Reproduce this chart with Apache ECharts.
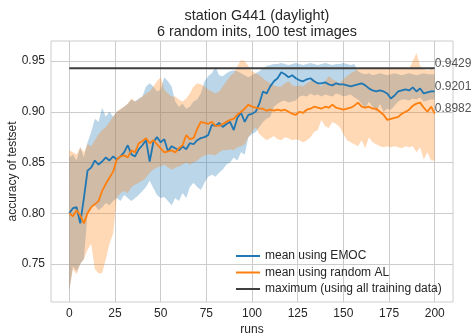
<!DOCTYPE html>
<html>
<head>
<meta charset="utf-8">
<script src="https://cdn.jsdelivr.net/npm/echarts@6/dist/echarts.min.js"></script>
<style>
  html, body { margin: 0; padding: 0; background: #fff; }
  #chart { width: 472px; height: 333px; }
</style>
</head>
<body>
<div id="chart"></div>
<script>
// runs sampled every 2 steps, 0..200
const runs = Array.from({ length: 101 }, (_, i) => i * 2);

const emocMean = [
  0.800, 0.805, 0.806, 0.790, 0.815, 0.842, 0.845, 0.852, 0.848, 0.851,
  0.855, 0.852, 0.856, 0.853, 0.856, 0.860, 0.867, 0.858, 0.856, 0.863,
  0.867, 0.872, 0.851, 0.870, 0.875, 0.870, 0.873, 0.861, 0.866, 0.864,
  0.862, 0.866, 0.863, 0.869, 0.868, 0.872, 0.874, 0.875, 0.877, 0.887,
  0.886, 0.889, 0.885, 0.888, 0.890, 0.882, 0.894, 0.899, 0.890, 0.897,
  0.898, 0.900, 0.908, 0.920, 0.918, 0.925, 0.930, 0.933, 0.939, 0.937,
  0.934, 0.936, 0.933, 0.931, 0.930, 0.932, 0.933, 0.930, 0.928, 0.928,
  0.929, 0.927, 0.926, 0.928, 0.927, 0.927, 0.926, 0.925, 0.926, 0.927,
  0.928, 0.926, 0.923, 0.921, 0.920, 0.921, 0.920, 0.918, 0.913, 0.916,
  0.920, 0.921, 0.922, 0.921, 0.924, 0.920, 0.923, 0.918, 0.919, 0.920,
  0.9201
];
const emocLow = [
  0.724, 0.748, 0.743, 0.750, 0.755, 0.800, 0.805, 0.808, 0.803, 0.806,
  0.810, 0.808, 0.812, 0.815, 0.812, 0.818, 0.815, 0.812, 0.815, 0.818,
  0.822, 0.826, 0.832, 0.825, 0.818, 0.815, 0.816, 0.812, 0.808, 0.815,
  0.812, 0.820, 0.815, 0.826, 0.830, 0.826, 0.823, 0.830, 0.836, 0.838,
  0.836, 0.840, 0.843, 0.848, 0.850, 0.855, 0.852, 0.860, 0.858, 0.875,
  0.878, 0.880, 0.885, 0.890, 0.893, 0.895, 0.905, 0.908, 0.910, 0.911,
  0.909, 0.910, 0.911, 0.915, 0.916, 0.915, 0.918, 0.916, 0.917, 0.915,
  0.917, 0.916, 0.915, 0.918, 0.917, 0.915, 0.916, 0.917, 0.914, 0.912,
  0.908, 0.903, 0.910, 0.905, 0.900, 0.908, 0.900, 0.903, 0.902, 0.906,
  0.910, 0.912, 0.912, 0.911, 0.913, 0.912, 0.914, 0.910, 0.911, 0.912,
  0.912
];
const emocHigh = [
  0.855, 0.858, 0.852, 0.865, 0.855, 0.870, 0.880, 0.893, 0.890, 0.904,
  0.895, 0.900, 0.895, 0.900, 0.902, 0.905, 0.908, 0.912, 0.910, 0.913,
  0.915, 0.925, 0.928, 0.925, 0.920, 0.922, 0.934, 0.930, 0.925, 0.910,
  0.905, 0.908, 0.903, 0.905, 0.910, 0.912, 0.918, 0.930, 0.935, 0.938,
  0.944, 0.936, 0.935, 0.938, 0.940, 0.941, 0.940, 0.938, 0.936, 0.934,
  0.936, 0.938, 0.940, 0.943, 0.945, 0.946, 0.947, 0.947, 0.948, 0.947,
  0.946, 0.947, 0.948, 0.947, 0.946, 0.947, 0.948, 0.947, 0.946, 0.947,
  0.948, 0.947, 0.946, 0.947, 0.947, 0.948, 0.947, 0.946, 0.947, 0.940,
  0.938, 0.937, 0.938, 0.936, 0.937, 0.938, 0.937, 0.936, 0.937, 0.938,
  0.937, 0.936, 0.937, 0.938, 0.937, 0.936, 0.937, 0.938, 0.937, 0.937,
  0.937
];

const randMean = [
  0.800, 0.797, 0.803, 0.798, 0.790, 0.800, 0.806, 0.809, 0.812, 0.822,
  0.829, 0.835, 0.841, 0.853, 0.856, 0.857, 0.855, 0.862, 0.860, 0.869,
  0.871, 0.874, 0.869, 0.872, 0.868, 0.864, 0.860, 0.861, 0.862, 0.860,
  0.864, 0.867, 0.877, 0.873, 0.874, 0.883, 0.890, 0.889, 0.888, 0.890,
  0.886, 0.886, 0.888, 0.890, 0.892, 0.893, 0.897, 0.900, 0.903, 0.907,
  0.905, 0.904, 0.903, 0.903, 0.901, 0.902, 0.901, 0.902, 0.901, 0.902,
  0.900, 0.898, 0.897, 0.900, 0.899, 0.902, 0.903, 0.905, 0.904, 0.903,
  0.905, 0.904, 0.907, 0.904, 0.903, 0.902, 0.903, 0.904, 0.906, 0.909,
  0.905, 0.904, 0.905, 0.903, 0.903, 0.900, 0.897, 0.892, 0.893, 0.894,
  0.895, 0.898, 0.900, 0.902, 0.906, 0.908, 0.909, 0.904, 0.900, 0.905,
  0.8982
];
const randLow = [
  0.724, 0.745, 0.740, 0.750, 0.755, 0.764, 0.770, 0.745, 0.741, 0.741,
  0.755, 0.770, 0.780, 0.815, 0.820, 0.822, 0.820, 0.826, 0.828, 0.830,
  0.832, 0.835, 0.840, 0.843, 0.845, 0.846, 0.848, 0.845, 0.843, 0.845,
  0.846, 0.848, 0.850, 0.848, 0.850, 0.852, 0.855, 0.857, 0.858, 0.858,
  0.857, 0.860, 0.862, 0.862, 0.863, 0.862, 0.865, 0.866, 0.868, 0.875,
  0.880, 0.885, 0.878, 0.875, 0.872, 0.874, 0.876, 0.873, 0.872, 0.875,
  0.874, 0.872, 0.873, 0.872, 0.870, 0.872, 0.875, 0.880, 0.882, 0.892,
  0.886, 0.884, 0.890, 0.888, 0.885, 0.878, 0.872, 0.870, 0.868, 0.866,
  0.872, 0.864, 0.875, 0.870, 0.868, 0.866, 0.865, 0.866, 0.865, 0.866,
  0.865, 0.864, 0.866, 0.865, 0.866, 0.860, 0.865, 0.853, 0.860, 0.852,
  0.852
];
const randHigh = [
  0.862, 0.860, 0.858, 0.865, 0.860, 0.868, 0.866, 0.872, 0.878, 0.882,
  0.885, 0.890, 0.895, 0.900, 0.903, 0.905, 0.908, 0.913, 0.910, 0.912,
  0.915, 0.918, 0.920, 0.925, 0.930, 0.934, 0.922, 0.918, 0.915, 0.915,
  0.912, 0.910, 0.913, 0.918, 0.925, 0.928, 0.927, 0.925, 0.922, 0.920,
  0.918, 0.920, 0.925, 0.930, 0.935, 0.938, 0.945, 0.951, 0.950, 0.945,
  0.940, 0.938, 0.936, 0.933, 0.930, 0.928, 0.926, 0.925, 0.925, 0.928,
  0.930, 0.926, 0.925, 0.926, 0.925, 0.928, 0.930, 0.932, 0.928, 0.925,
  0.930, 0.935, 0.932, 0.930, 0.928, 0.932, 0.935, 0.938, 0.940, 0.942,
  0.943, 0.942, 0.943, 0.942, 0.943, 0.942, 0.943, 0.942, 0.943, 0.942,
  0.943, 0.942, 0.943, 0.942, 0.950, 0.958, 0.945, 0.942, 0.941, 0.942,
  0.941
];

const maxRuns = [0, 200];
const maxValue = [0.9429, 0.9429];
const endLabels = [0.9429, 0.9201, 0.8982];

const xTicks = [0, 25, 50, 75, 100, 125, 150, 175, 200];
const yTicks = [0.75, 0.8, 0.85, 0.9, 0.95];

const blue = "#1f77b4";
const orange = "#ff7f0e";
const ink = "#262626";
const fontFamily = "'Liberation Sans', Arial, sans-serif";

const pairs = (values) => values.map((v, i) => [runs[i], v]);

// one polygon per band: upper edge left->right, lower edge right->left
const bandSeries = (low, high, color) => ({
  type: "custom",
  silent: true,
  z: 1,
  data: runs.map((r, i) => [r, low[i], high[i]]),
  encode: { x: 0, y: [1, 2] },
  renderItem: (params, api) => {
    if (params.dataIndex !== 0) return null;
    const top = runs.map((r, i) => api.coord([r, high[i]]));
    const bottom = runs.map((r, i) => api.coord([r, low[i]])).reverse();
    return {
      type: "polygon",
      shape: { points: top.concat(bottom) },
      style: { fill: color, opacity: 0.3 },
    };
  },
});

const chart = echarts.init(document.getElementById("chart"), null, { renderer: "canvas" });

chart.setOption({
  animation: false,
  backgroundColor: "#fff",
  textStyle: { fontFamily },
  title: {
    text: "station G441 (daylight)\n6 random inits, 100 test images",
    left: 252,
    top: 3,
    textAlign: "center",
    textStyle: { fontSize: 14.4, fontWeight: "normal", color: ink, lineHeight: 16, fontFamily },
  },
  grid: {
    left: 51,
    right: 19,
    top: 41,
    bottom: 31,
    outerBoundsMode: "none",
    containLabel: false,
    show: true,
    borderColor: "#cccccc",
    borderWidth: 1,
  },
  legend: {
    orient: "vertical",
    left: 231,
    top: 244,
    itemWidth: 24,
    itemHeight: 2,
    itemGap: 2.5,
    icon: "rect",
    textStyle: { fontSize: 12, color: ink, lineHeight: 14, fontFamily },
    data: ["mean using EMOC", "mean using random AL", "maximum (using all training data)"],
  },
  xAxis: {
    type: "value",
    min: -10,
    max: 210,
    name: "runs",
    nameLocation: "middle",
    nameGap: 22,
    nameMoveOverlap: false,
    nameTextStyle: { fontSize: 12, color: ink, fontFamily },
    axisLine: { show: false },
    axisTick: { show: false, customValues: xTicks },
    axisLabel: { customValues: xTicks, fontSize: 12, color: ink, margin: 6, fontFamily },
    splitLine: { show: true, lineStyle: { color: "#cccccc", width: 1 } },
  },
  yAxis: {
    type: "value",
    min: 0.7126,
    max: 0.9697,
    name: "accuracy of testset",
    nameLocation: "middle",
    nameGap: 32,
    nameMoveOverlap: false,
    nameTextStyle: { fontSize: 12, color: ink, fontFamily },
    axisLine: { show: false },
    axisTick: { show: false, customValues: yTicks },
    axisLabel: {
      customValues: yTicks,
      fontSize: 12,
      color: ink,
      margin: 6,
      fontFamily,
      formatter: (v) => v.toFixed(2),
    },
    splitLine: { show: true, lineStyle: { color: "#cccccc", width: 1 } },
  },
  series: [
    bandSeries(emocLow, emocHigh, blue),
    bandSeries(randLow, randHigh, orange),
    {
      name: "mean using EMOC",
      type: "line",
      data: pairs(emocMean),
      symbol: "none",
      color: blue,
      lineStyle: { color: blue, width: 1.8 },
      z: 3,
    },
    {
      name: "mean using random AL",
      type: "line",
      data: pairs(randMean),
      symbol: "none",
      color: orange,
      lineStyle: { color: orange, width: 1.8 },
      z: 3,
    },
    {
      name: "maximum (using all training data)",
      type: "line",
      data: maxRuns.map((r, i) => [r, maxValue[i]]),
      symbol: "none",
      color: "#3f3f3f",
      lineStyle: { color: "#3f3f3f", width: 2 },
      z: 4,
    },
    {
      type: "scatter",
      data: endLabels.map((v) => [200, v]),
      symbolSize: 0,
      silent: true,
      z: 5,
      label: {
        show: true,
        position: "right",
        distance: 0,
        offset: [0, -5],
        formatter: (p) => p.value[1].toFixed(4),
        fontSize: 12,
        color: ink,
        fontFamily,
      },
    },
  ],
});
</script>
</body>
</html>
